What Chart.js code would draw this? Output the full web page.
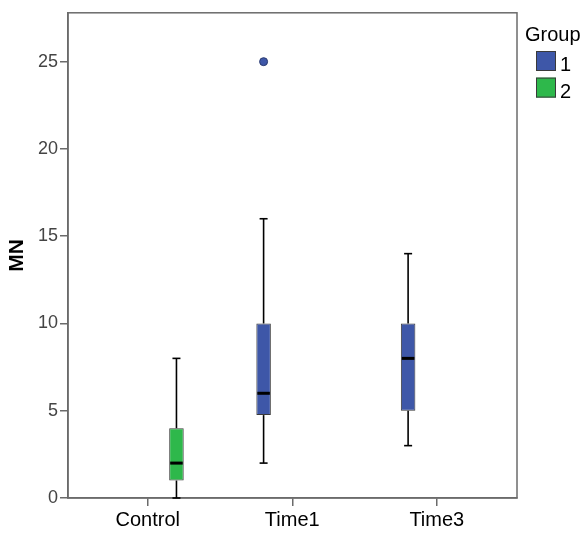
<!DOCTYPE html>
<html>
<head>
<meta charset="utf-8">
<script src="https://cdn.jsdelivr.net/npm/chart.js@4"></script>
<style>
  html, body { margin: 0; padding: 0; background: #fff; }
  #wrap { width: 587px; height: 533px; }
</style>
</head>
<body>
<div id="wrap"><canvas id="boxChart"></canvas></div>
<script>
// categories on the x axis
const categories = ["Control", "Time1", "Time3"];
const groupNames = ["1", "2"];
const groupColors = ["#3e57a8", "#2eb84b"];
// per category: [low whisker, Q1, median, Q3, high whisker], null = no box
const group1Stats = [null, [2, 4.75, 6, 10, 16], [3, 5, 8, 10, 14]];
const group2Stats = [[0, 1, 2, 4, 8], null, null];
const group1Outliers = [[], [25], []];
const group2Outliers = [[], [], []];
const yTicks = [0, 5, 10, 15, 20, 25];
const yMax = 27.8;

const FONT = "'Liberation Sans', Arial, sans-serif";

// turn a stats list into floating bars (Q1..Q3) plus the matching extras
function makeDataset(label, color, stats, outliers) {
	const data = [];
	const boxStats = [];
	const boxOutliers = [];
	stats.forEach((s, i) => {
		if (!s) return;
		data.push({ x: i, y: [s[1], s[3]] });
		boxStats.push(s);
		boxOutliers.push(outliers[i]);
	});
	return {
		label: label,
		data: data,
		boxStats: boxStats,
		boxOutliers: boxOutliers,
		backgroundColor: color,
		borderColor: "#3a3a3a",
		borderWidth: 1,
		borderSkipped: false,
		categoryPercentage: 0.794,
		barPercentage: 0.253,
	};
}

// frame round the plot area
const frame = {
	id: "frame",
	beforeDatasetsDraw(chart) {
		const a = chart.chartArea;
		const ctx = chart.ctx;
		ctx.save();
		ctx.strokeStyle = "#6b6b6b";
		ctx.lineWidth = 1.5;
		ctx.strokeRect(a.left, a.top, a.right - a.left, a.bottom - a.top);
		ctx.restore();
	},
};

// whiskers, median and outliers on top of each box
const boxParts = {
	id: "boxParts",
	afterDatasetsDraw(chart) {
		const ctx = chart.ctx;
		const yScale = chart.scales.y;
		const line = (x1, y1, x2, y2) => {
			ctx.beginPath();
			ctx.moveTo(x1, y1);
			ctx.lineTo(x2, y2);
			ctx.stroke();
		};
		chart.data.datasets.forEach((ds, di) => {
			const meta = chart.getDatasetMeta(di);
			meta.data.forEach((bar, i) => {
				const s = ds.boxStats[i];
				const x = bar.x;
				const half = bar.width / 2;
				const lo = yScale.getPixelForValue(s[0]);
				const q1 = yScale.getPixelForValue(s[1]);
				const med = yScale.getPixelForValue(s[2]);
				const q3 = yScale.getPixelForValue(s[3]);
				const hi = yScale.getPixelForValue(s[4]);
				ctx.save();
				ctx.strokeStyle = "#000";
				ctx.lineWidth = 1.6;
				line(x, q3, x, hi);
				line(x, q1, x, lo);
				line(x - 4, hi, x + 4, hi);
				line(x - 4, lo, x + 4, lo);
				ctx.lineWidth = 3;
				line(x - half + 1, med, x + half - 1, med);
				ds.boxOutliers[i].forEach((v) => {
					ctx.beginPath();
					ctx.arc(x, yScale.getPixelForValue(v), 4, 0, Math.PI * 2);
					ctx.fillStyle = ds.backgroundColor;
					ctx.fill();
					ctx.lineWidth = 1;
					ctx.strokeStyle = "#2a3a70";
					ctx.stroke();
				});
				ctx.restore();
			});
		});
	},
};

// SPSS style legend to the right of the plot
const groupLegend = {
	id: "groupLegend",
	afterDraw(chart) {
		const ctx = chart.ctx;
		const left = chart.chartArea.right + 8;
		ctx.save();
		ctx.fillStyle = "#000";
		ctx.font = "20px " + FONT;
		ctx.textBaseline = "alphabetic";
		ctx.textAlign = "left";
		ctx.fillText("Group", left, 41);
		chart.data.datasets.forEach((ds, i) => {
			const top = 51 + i * 26.6;
			ctx.fillStyle = ds.backgroundColor;
			ctx.fillRect(left + 11, top, 20, 20);
			ctx.strokeStyle = "#3a3a3a";
			ctx.lineWidth = 1;
			ctx.strokeRect(left + 11.5, top + 0.5, 19, 19);
			ctx.fillStyle = "#000";
			ctx.fillText(ds.label, left + 35, top + 20);
		});
		ctx.restore();
	},
};

const chart = new Chart(document.getElementById("boxChart"), {
	type: "bar",
	data: {
		datasets: [
			makeDataset(groupNames[0], groupColors[0], group1Stats, group1Outliers),
			makeDataset(groupNames[1], groupColors[1], group2Stats, group2Outliers),
		],
	},
	options: {
		responsive: true,
		maintainAspectRatio: false,
		animation: false,
		layout: { padding: { top: 10, right: 70, left: 0, bottom: 0 } },
		plugins: {
			legend: { display: false },
			tooltip: { enabled: false },
		},
		scales: {
			x: {
				type: "linear",
				min: -0.552,
				max: 2.555,
				offset: false,
				afterBuildTicks: (scale) => {
					scale.ticks = categories.map((c, i) => ({ value: i }));
				},
				afterFit: (scale) => {
					scale.height = 35;
				},
				ticks: {
					callback: (v) => categories[v],
					color: "#000",
					font: { family: FONT, size: 20 },
					padding: 2,
					maxRotation: 0,
				},
				grid: {
					offset: false,
					drawOnChartArea: false,
					drawTicks: true,
					tickLength: 8,
					color: "#6b6b6b",
					lineWidth: 1.5,
				},
				border: { display: true, color: "#6b6b6b", width: 1.5 },
			},
			y: {
				min: 0,
				max: yMax,
				afterBuildTicks: (scale) => {
					scale.ticks = yTicks.map((v) => ({ value: v }));
				},
				afterFit: (scale) => {
					scale.width = 68;
				},
				ticks: {
					color: "#444",
					font: { family: FONT, size: 18 },
					padding: 2,
				},
				grid: {
					drawOnChartArea: false,
					drawTicks: true,
					tickLength: 8,
					color: "#6b6b6b",
					lineWidth: 1.5,
				},
				border: { display: true, color: "#6b6b6b", width: 1.5 },
				title: {
					display: true,
					text: "MN",
					color: "#000",
					font: { family: FONT, size: 21, weight: "bold" },
					padding: { top: 5, bottom: 0 },
				},
			},
		},
	},
	plugins: [frame, boxParts, groupLegend],
});
</script>
</body>
</html>
